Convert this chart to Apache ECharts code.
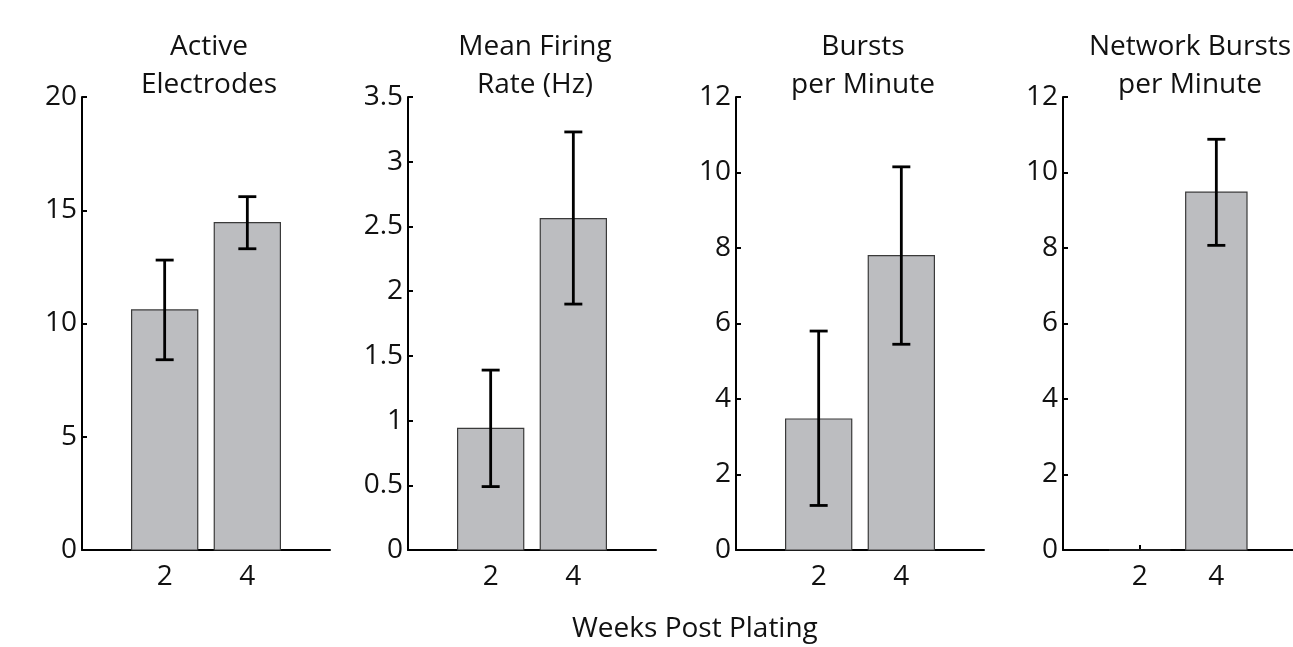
<!DOCTYPE html>
<html><head><meta charset="utf-8">
<script src="https://cdn.jsdelivr.net/npm/echarts@6/dist/echarts.min.js"></script>
<style>html,body{margin:0;padding:0;background:#fff}#c{width:1293px;height:647px}</style>
</head><body><div id="c"></div>
<script>
// ---- data ----
const weeks = [2, 4];
const titles = ['Active\nElectrodes', 'Mean Firing\nRate (Hz)', 'Bursts\nper Minute', 'Network Bursts\nper Minute'];
const activeMean = [10.6, 14.45];
const activeLow = [8.4, 13.3];
const activeHigh = [12.8, 15.6];
const firingMean = [0.94, 2.56];
const firingLow = [0.49, 1.90];
const firingHigh = [1.39, 3.23];
const burstsMean = [3.47, 7.80];
const burstsLow = [1.18, 5.45];
const burstsHigh = [5.80, 10.15];
const netMean = [0, 9.48];
const netLow = [null, 8.07];
const netHigh = [null, 10.88];
const yMax = [20, 3.5, 12, 12];
const yStep = [5, 0.5, 2, 2];
const xAxisTitle = 'Weeks Post Plating';

const panels = [
  [activeMean, activeLow, activeHigh],
  [firingMean, firingLow, firingHigh],
  [burstsMean, burstsLow, burstsHigh],
  [netMean, netLow, netHigh]
];

const FONT = 'Open Sans';
const gridLeft = [82, 408, 736, 1063];
const gridW = 248;
const gridTop = 97, gridH = 453;

const grids = [], xAxes = [], yAxes = [], series = [], title = [];
panels.forEach((p, i) => {
  grids.push({left: gridLeft[i], top: gridTop, width: gridW, height: gridH});
  title.push({
    text: titles[i], left: gridLeft[i] + gridW / 2 - 2, top: 23, textAlign: 'center',
    textStyle: {fontFamily: FONT, fontSize: 28, fontWeight: 'normal', color: '#111', lineHeight: 38}
  });
  xAxes.push({
    type: 'value', gridIndex: i, min: 0, max: 6,
    axisLine: {show: true, onZero: false, lineStyle: {color: '#000', width: 2}},
    axisTick: {show: true, inside: true, length: 5, customValues: weeks, lineStyle: {color: '#000', width: 2}},
    axisLabel: {customValues: weeks, margin: 13, fontFamily: FONT, fontSize: 28, color: '#111'},
    splitLine: {show: false}
  });
  yAxes.push({
    type: 'value', gridIndex: i, min: 0, max: yMax[i], interval: yStep[i],
    axisLine: {show: true, lineStyle: {color: '#000', width: 2}},
    axisTick: {show: true, inside: true, length: 5, lineStyle: {color: '#000', width: 2}},
    axisLabel: {margin: 5, fontFamily: FONT, fontSize: 28, color: '#111'},
    splitLine: {show: false}
  });
  const data = weeks.map((w, k) => [w, p[0][k], p[1][k], p[2][k]]);
  series.push({
    type: 'custom', xAxisIndex: i, yAxisIndex: i, data: data, z: 2,
    renderItem: function (params, api) {
      const x = api.value(0), v = api.value(1);
      const halfW = 0.8;
      const p1 = api.coord([x - halfW, v]);
      const p2 = api.coord([x + halfW, 0]);
      return {
        type: 'rect',
        shape: {x: p1[0], y: p1[1], width: p2[0] - p1[0], height: p2[1] - p1[1]},
        style: {fill: '#bcbdc0', stroke: '#3a3a3a', lineWidth: 1.2}
      };
    }
  });
  series.push({
    type: 'custom', xAxisIndex: i, yAxisIndex: i, data: data.filter(d => d[2] !== null), z: 5,
    renderItem: function (params, api) {
      const x = api.value(0);
      const lo = api.coord([x, api.value(2)]);
      const hi = api.coord([x, api.value(3)]);
      const cap = 9;
      const st = {stroke: '#000', lineWidth: 2.8};
      return {
        type: 'group', children: [
          {type: 'line', shape: {x1: hi[0], y1: hi[1], x2: lo[0], y2: lo[1]}, style: st},
          {type: 'line', shape: {x1: hi[0] - cap, y1: hi[1], x2: hi[0] + cap, y2: hi[1]}, style: st},
          {type: 'line', shape: {x1: lo[0] - cap, y1: lo[1], x2: lo[0] + cap, y2: lo[1]}, style: st}
        ]
      };
    }
  });
});

const chart = echarts.init(document.getElementById('c'), null, {renderer: 'canvas'});
chart.setOption({
  animation: false,
  backgroundColor: '#fff',
  title: title,
  grid: grids, xAxis: xAxes, yAxis: yAxes, series: series,
  graphic: [{
    type: 'text', left: 572, top: 615,
    style: {text: xAxisTitle, fontFamily: FONT, fontSize: 28, fill: '#111'}
  }]
});
</script></body></html>
